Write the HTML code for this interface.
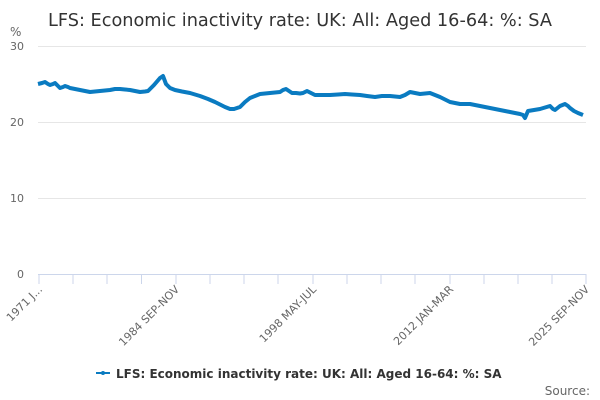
<!DOCTYPE html>
<html><head><meta charset="utf-8"><style>
body{margin:0;background:#fff;}
svg{display:block;font-family:"DejaVu Sans","Liberation Sans",sans-serif;}
</style></head><body>
<svg width="600" height="400" viewBox="0 0 600 400">
<text x="300" y="26" text-anchor="middle" font-size="17.7" fill="#333">LFS: Economic inactivity rate: UK: All: Aged 16-64: %: SA</text>
<text x="10" y="36" font-size="12" fill="#666">%</text>
<g stroke="#e6e6e6" stroke-width="1">
<line x1="38" y1="46.5" x2="586" y2="46.5"/>
<line x1="38" y1="122.5" x2="586" y2="122.5"/>
<line x1="38" y1="198.5" x2="586" y2="198.5"/>
</g>
<g font-size="11" fill="#666" text-anchor="end">
<text x="24" y="50">30</text><text x="24" y="126">20</text><text x="24" y="202">10</text><text x="24" y="278">0</text>
</g>
<line x1="38" y1="274.5" x2="586" y2="274.5" stroke="#ccd6eb"/>
<g stroke="#ccd6eb">
<line x1="39" y1="274" x2="39" y2="284"/><line x1="73" y1="274" x2="73" y2="284"/><line x1="107" y1="274" x2="107" y2="284"/><line x1="141.5" y1="274" x2="141.5" y2="284"/><line x1="176" y1="274" x2="176" y2="284"/><line x1="210" y1="274" x2="210" y2="284"/><line x1="244" y1="274" x2="244" y2="284"/><line x1="278" y1="274" x2="278" y2="284"/><line x1="313" y1="274" x2="313" y2="284"/><line x1="347" y1="274" x2="347" y2="284"/><line x1="381" y1="274" x2="381" y2="284"/><line x1="415" y1="274" x2="415" y2="284"/><line x1="450" y1="274" x2="450" y2="284"/><line x1="484" y1="274" x2="484" y2="284"/><line x1="518" y1="274" x2="518" y2="284"/><line x1="552" y1="274" x2="552" y2="284"/><line x1="586" y1="274" x2="586" y2="284"/>
</g>
<g font-size="11" fill="#666" text-anchor="end">
<text transform="translate(43,290) rotate(-45)">1971 J...</text>
<text transform="translate(180,290) rotate(-45)">1984 SEP-NOV</text>
<text transform="translate(317,290) rotate(-45)">1998 MAY-JUL</text>
<text transform="translate(454,290) rotate(-45)">2012 JAN-MAR</text>
<text transform="translate(590,290) rotate(-45)">2025 SEP-NOV</text>
</g>
<polyline fill="none" stroke="#0a7bc1" stroke-width="4" stroke-linejoin="round" points="38,84 42,83 45,82 48,84 50,85 53,84 55,83 58,86 60,88 63,87 65,86 68,87 70,88 75,89 80,90 85,91 90,92 95,91.5 100,91 105,90.5 110,90 115,89 120,89 125,89.5 130,90 135,91 140,92 145,91.5 148,91 154,85 160,78 163,76 166,84 170,88 175,90 182,91.5 190,93 195,94.5 200,96 208,99 215,102 220,104.5 225,107 230,109 234,109 240,107 245,102 250,98 255,96 260,94 265,93.5 270,93 275,92.5 280,92 283,90 286,89 289,91 292,93 296,93 300,93.5 303,93 307,91 311,93 315,95 322,95 330,95 338,94.5 345,94 352,94.5 360,95 367,96 375,97 382,96 390,96 395,96.5 400,97 405,95 410,92 415,93 420,94 425,93.5 430,93 435,95 440,97 445,99.5 450,102 455,103 460,104 465,104 470,104 475,105 480,106 485,107 490,108 495,109 500,110 505,111 510,112 515,113 520,114 523,115 525,118 528,111 534,110 540,109 545,107.5 550,106 553,109 555,110 560,106 565,104 568,106 570,108 574,111 578,113 583,115"/>
<line x1="96" y1="373" x2="110" y2="373" stroke="#0a7bc1" stroke-width="2"/>
<circle cx="103" cy="373" r="2" fill="#0a7bc1"/>
<text x="116" y="378" font-size="12" font-weight="bold" fill="#333">LFS: Economic inactivity rate: UK: All: Aged 16-64: %: SA</text>
<text x="590" y="395" font-size="12" fill="#666" text-anchor="end">Source:</text>
</svg>
</body></html>
